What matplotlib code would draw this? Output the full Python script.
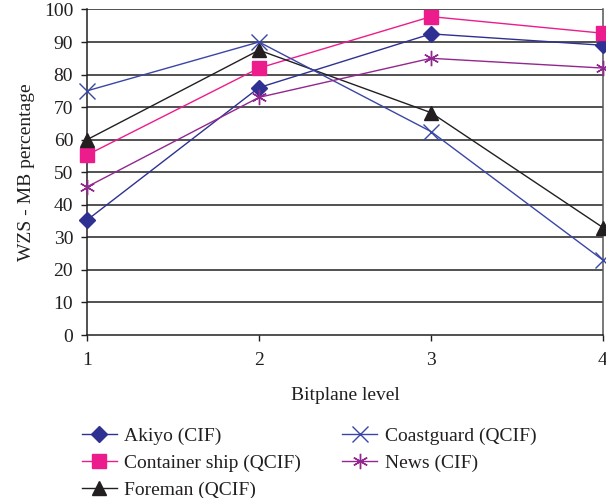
import matplotlib
matplotlib.use("Agg")
import matplotlib.pyplot as plt

plt.rcParams['font.family'] = ['Liberation Serif', 'DejaVu Serif']

levels = [1, 2, 3, 4]
akiyo = [35.3, 76, 92.5, 89]
container = [55.3, 82, 97.8, 92.7]
coastguard = [75, 90, 62.5, 23]
news = [45.5, 73, 85, 82]
foreman = [60, 87.5, 68.3, 33]

fig = plt.figure(figsize=(6.06, 4.98), dpi=100)
ax = fig.add_axes([0.1436, 0.3273, 0.8514, 0.6537])

for y in range(10, 101, 10):
    ax.axhline(y, color='#222222', lw=1.1, zorder=1)

ax.plot(levels, akiyo, color='#2E3192', lw=1.0, marker='D', ms=8,
        label='Akiyo (CIF)', zorder=3, clip_on=False)
ax.plot(levels, container, color='#EC1C8C', lw=1.0, marker='s', ms=10,
        label='Container ship (QCIF)', zorder=3, clip_on=False)
ax.plot(levels, foreman, color='#231F20', lw=1.0, marker='^', ms=10.5,
        label='Foreman (QCIF)', zorder=3, clip_on=False)
ax.plot(levels, coastguard, color='#3A46A6', lw=1.0, marker='x', ms=11,
        mew=1.0, label='Coastguard (QCIF)', zorder=3, clip_on=False)
ax.plot(levels, news, color='#92278F', lw=1.0, marker=(6, 2, 0), ms=11,
        mew=1.0, label='News (CIF)', zorder=3, clip_on=False)

ax.set_xlim(1, 4)
ax.set_ylim(0, 100)
ax.set_xticks(levels)
ax.set_yticks(range(0, 101, 10))
ax.tick_params(axis='both', direction='out', length=4, width=1.0,
               labelsize=14, colors='#231F20')
ax.tick_params(axis='y', pad=6)
ax.tick_params(axis='x', pad=8)

ax.spines['left'].set_color('#231F20')
ax.spines['bottom'].set_color('#231F20')
ax.spines['right'].set_color('#555555')
ax.spines['top'].set_visible(False)
for s in ax.spines.values():
    s.set_linewidth(1.1)

ax.set_xlabel('Bitplane level', fontsize=14, color='#231F20', labelpad=13)
ax.set_ylabel('WZS - MB percentage', fontsize=14, color='#231F20', labelpad=6)

handles, labels = ax.get_legend_handles_labels()
fig.legend(handles, labels,
           loc='upper left', bbox_to_anchor=(0.1217, 0.157), ncol=2,
           frameon=False, fontsize=14, handlelength=1.8, handletextpad=0.4,
           columnspacing=2.1, labelspacing=0.46, borderaxespad=0,
           labelcolor='#231F20')

fig.savefig('out.png', dpi=100)
